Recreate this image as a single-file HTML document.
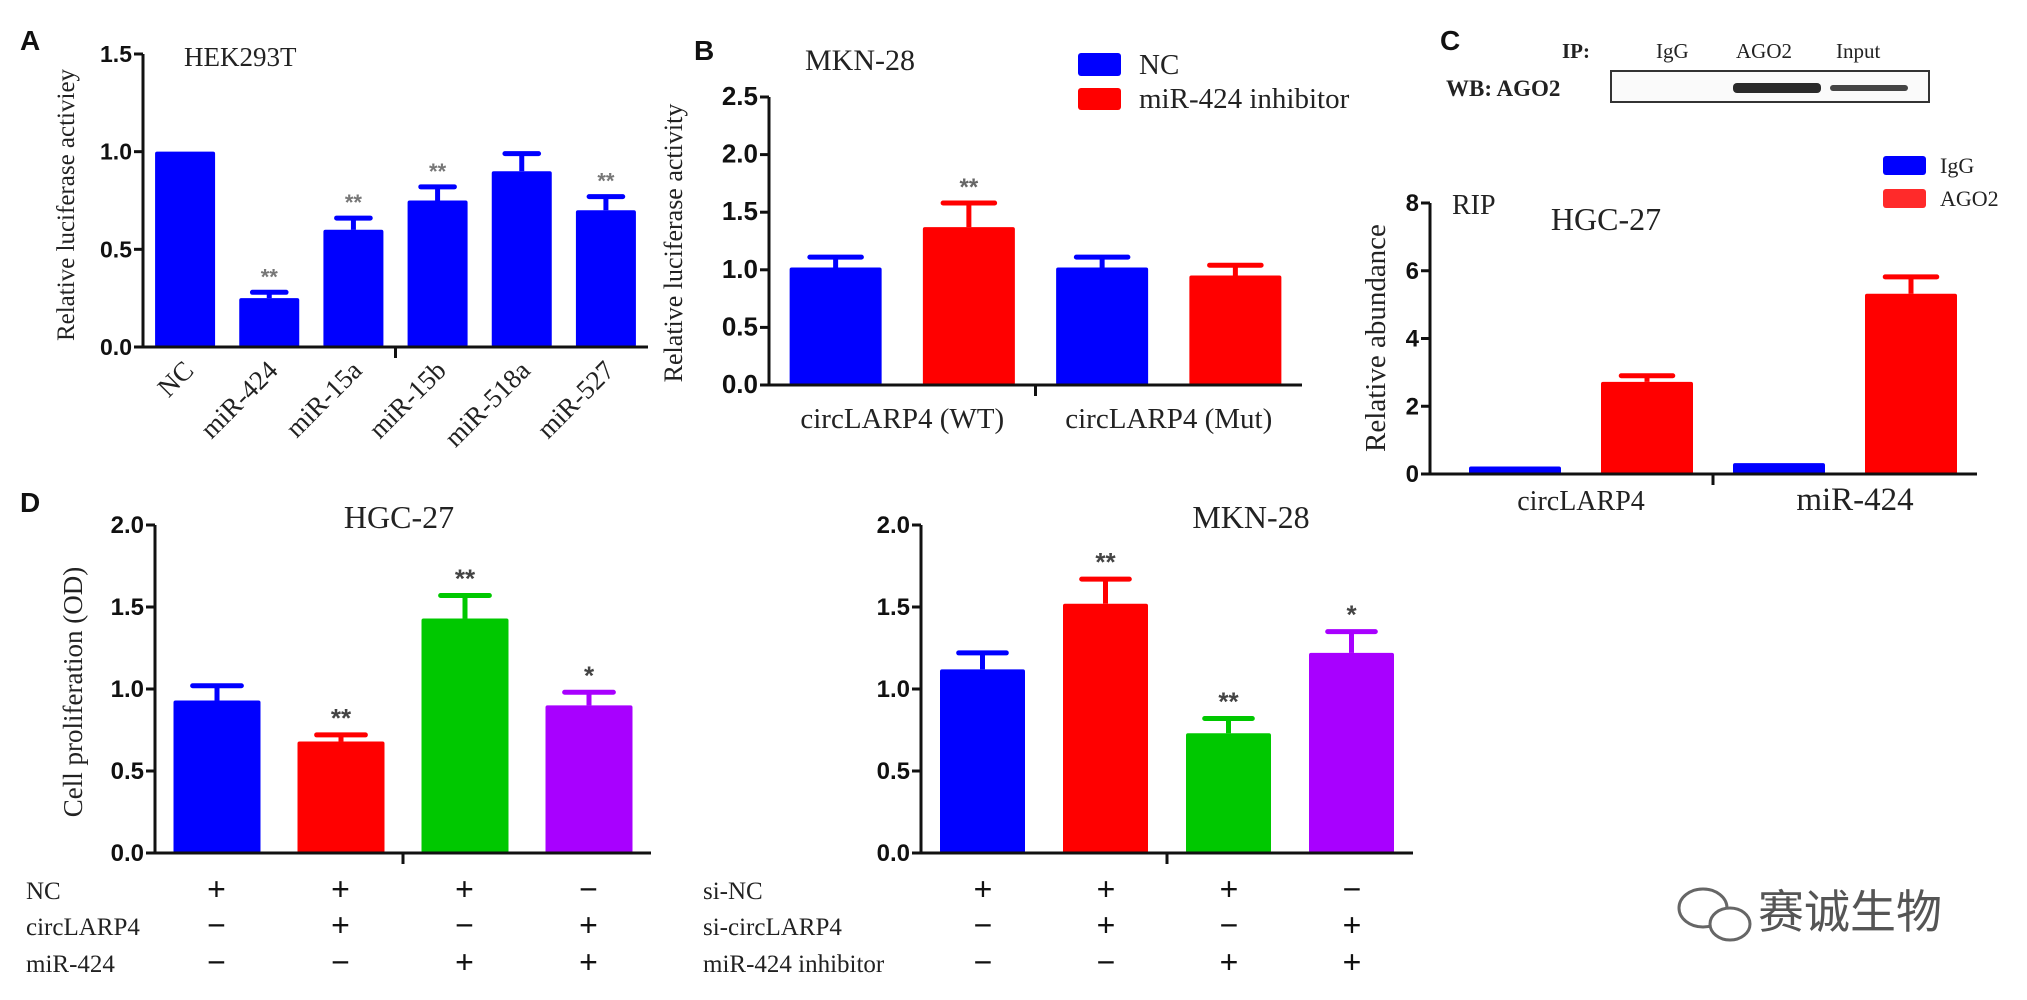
<!DOCTYPE html>
<html><head><meta charset="utf-8">
<style>
html,body{margin:0;padding:0;background:#fff;}
svg{display:block;}
.tm{font-family:"Liberation Serif",serif;fill:#222;}
.ar{font-family:"Liberation Sans",sans-serif;font-weight:bold;fill:#111;}
</style></head>
<body>
<svg id="fig" width="2027" height="1000" viewBox="0 0 2027 1000" xmlns="http://www.w3.org/2000/svg">
  <rect x="0" y="0" width="2027" height="1000" fill="#fff"/>
  <text x="20" y="50" class="ar" font-size="28">A</text>
  <text x="694" y="60" class="ar" font-size="28">B</text>
  <text x="1440" y="50" class="ar" font-size="28">C</text>
  <text x="20" y="512" class="ar" font-size="28">D</text>

  <text x="184" y="66" class="tm" font-size="27">HEK293T</text>
  <text transform="translate(74,205) rotate(-90)" text-anchor="middle" class="tm" font-size="25">Relative luciferase activiey</text>

  <text x="805" y="70" class="tm" font-size="30">MKN-28</text>
  <rect x="1078" y="53" width="43" height="23" rx="3" fill="#0000ff"/>
  <text x="1139" y="74" class="tm" font-size="29">NC</text>
  <rect x="1078" y="88" width="43" height="22" rx="3" fill="#ff0000"/>
  <text x="1139" y="108" class="tm" font-size="29">miR-424 inhibitor</text>
  <text transform="translate(682,243) rotate(-90)" text-anchor="middle" class="tm" font-size="26">Relative  luciferase activity</text>

  <text x="1562" y="58" class="tm" font-size="21" font-weight="bold">IP:</text>
  <text x="1656" y="58" class="tm" font-size="21">IgG</text>
  <text x="1736" y="58" class="tm" font-size="21">AGO2</text>
  <text x="1836" y="58" class="tm" font-size="21">Input</text>
  <text x="1446" y="96" class="tm" font-size="23" font-weight="bold">WB: AGO2</text>
  <rect x="1611" y="71" width="318" height="31" fill="#fafafa" stroke="#333" stroke-width="2"/>
  <rect x="1733" y="83" width="88" height="10" rx="4" fill="#2a2a2a"/>
  <rect x="1830" y="85" width="78" height="6" rx="3" fill="#444"/>

  <text x="1452" y="214" class="tm" font-size="28">RIP</text>
  <text x="1606" y="230" text-anchor="middle" class="tm" font-size="32">HGC-27</text>
  <rect x="1883" y="156" width="43" height="19" rx="3" fill="#0000ff"/>
  <text x="1940" y="173" class="tm" font-size="22">IgG</text>
  <rect x="1883" y="189" width="43" height="19" rx="3" fill="#ff2a2a"/>
  <text x="1940" y="206" class="tm" font-size="22">AGO2</text>
  <text transform="translate(1385,338) rotate(-90)" text-anchor="middle" class="tm" font-size="29">Relative abundance</text>

  <text x="399" y="528" text-anchor="middle" class="tm" font-size="32">HGC-27</text>
  <text transform="translate(82,692) rotate(-90)" text-anchor="middle" class="tm" font-size="27">Cell proliferation (OD)</text>
  <text x="1251" y="528" text-anchor="middle" class="tm" font-size="32">MKN-28</text>

  <g>
    <ellipse cx="1703" cy="908" rx="24" ry="19" fill="none" stroke="#666" stroke-width="3"/>
    <ellipse cx="1730" cy="924" rx="20" ry="16" fill="#fff" stroke="#666" stroke-width="3"/>
    <text x="1758" y="928" class="tm" font-size="46" style="font-family:'Liberation Sans','Noto Sans CJK SC',sans-serif;fill:#555">赛诚生物</text>
  </g>
  <g id="charts"></g>
</svg>

<script>
const aCategories = ["NC","miR-424","miR-15a","miR-15b","miR-518a","miR-527"];
const aValues = [1.0, 0.25, 0.60, 0.75, 0.90, 0.70];
const aErrors = [0.0, 0.03, 0.06, 0.07, 0.09, 0.07];
const aStars = ["", "**", "**", "**", "", "**"];
const aTicks = [0.0, 0.5, 1.0, 1.5];
const aTickLabels = ["0.0","0.5","1.0","1.5"];

const bGroups = ["circLARP4 (WT)","circLARP4 (Mut)"];
const bSeries = ["NC","miR-424 inhibitor"];
const bValues = [1.02, 1.37, 1.02, 0.95];
const bErrors = [0.09, 0.21, 0.09, 0.09];
const bStars = ["", "**", "", ""];
const bTicks = [0.0, 0.5, 1.0, 1.5, 2.0, 2.5];
const bTickLabels = ["0.0","0.5","1.0","1.5","2.0","2.5"];

const cGroups = ["circLARP4","miR-424"];
const cSeries = ["IgG","AGO2"];
const cValues = [0.22, 2.72, 0.32, 5.32];
const cErrors = [0.0, 0.18, 0.0, 0.50];
const cTicks = [0, 2, 4, 6, 8];
const cTickLabels = ["0","2","4","6","8"];

const d1Values = [0.93, 0.68, 1.43, 0.90];
const d1Errors = [0.09, 0.04, 0.14, 0.08];
const d1Stars = ["", "**", "**", "*"];
const d1RowLabels = ["NC","circLARP4","miR-424"];
const d1Signs = [["+","+","+","−"],["−","+","−","+"],["−","−","+","+"]];

const d2Values = [1.12, 1.52, 0.73, 1.22];
const d2Errors = [0.10, 0.15, 0.09, 0.13];
const d2Stars = ["", "**", "**", "*"];
const d2RowLabels = ["si-NC","si-circLARP4","miR-424 inhibitor"];
const d2Signs = [["+","+","+","−"],["−","+","−","+"],["−","−","+","+"]];

const dTicks = [0.0, 0.5, 1.0, 1.5, 2.0];
const dTickLabels = ["0.0","0.5","1.0","1.5","2.0"];

const NS = "http://www.w3.org/2000/svg";
const root = document.getElementById("charts");
function mk(tag, attrs, parent){
  const e = document.createElementNS(NS, tag);
  for (const k in attrs) e.setAttribute(k, attrs[k]);
  (parent||root).appendChild(e);
  return e;
}

function chart(p){
  const g = mk("g", {});
  
  
  const n = p.values.length;
  const axisX = (p.axisX !== undefined) ? p.axisX : p.x0;
  const step = (p.x1 - p.x0) / n;
  const yScale = v => p.y0 - (v / p.vmax) * (p.y0 - p.yTop);
  const xLeft = i => p.x0 + i*step + (step - p.bw)/2;
  p.values.forEach((v,i)=>{
    const col = p.colors[i % p.colors.length];
    const bx = xLeft(i), by = yScale(v);
    const r = mk("rect", {x:bx, y:by, width:p.bw, height:p.y0-by, fill:col, rx:2}, g);
    
    
    const e = p.errors[i];
    if (e > 0){
      const cx = bx + p.bw/2, ey = yScale(v+e);
      const l1 = mk("line", {x1:cx, y1:by, x2:cx, y2:ey, stroke:col, "stroke-width":5}, g);
      
      
      const l2 = mk("line", {x1:cx-p.bw*0.28, y1:ey, x2:cx+p.bw*0.28, y2:ey, stroke:col, "stroke-width":5, "stroke-linecap":"round"}, g);
      
      
    }
    if (p.stars && p.stars[i]){
      const t = mk("text", {x:bx+p.bw/2, y:yScale(v+e)-8, "text-anchor":"middle", "font-size":p.starSize||26, fill:p.starColor||"#555", "font-family":"Liberation Sans, sans-serif", "font-weight":"bold"}, g);
      t.textContent = p.stars[i];
      
      
    }
  });
  const ya = mk("line", {x1:axisX, y1:p.y0+1.5, x2:axisX, y2:p.yTop, stroke:"#111", "stroke-width":3}, g);
  
  
  const xa = mk("line", {x1:axisX-9, y1:p.y0, x2:p.x1, y2:p.y0, stroke:"#111", "stroke-width":3}, g);
  
  
  const mt = mk("line", {x1:(p.x0+p.x1)/2, y1:p.y0, x2:(p.x0+p.x1)/2, y2:p.y0+11, stroke:"#111", "stroke-width":3}, g);
  
  
  p.ticks.forEach((tv,i)=>{
    const ty = yScale(tv);
    const tk = mk("line", {x1:axisX-9, y1:ty, x2:axisX, y2:ty, stroke:"#111", "stroke-width":3}, g);
    
    
    const tl = mk("text", {x:axisX-11, y:ty+8, "text-anchor":"end", "font-size":p.tickSize||24, class:"ar"}, g);
    tl.textContent = p.tickLabels[i];
    
    
  });
  return {g, step, xLeft, yScale};
}

const A = chart({name:"a-chart", x0:143, x1:648, y0:347, yTop:54, vmax:1.5, bw:60,
  values:aValues, errors:aErrors, stars:aStars, colors:["#0000ff"], ticks:aTicks, tickLabels:aTickLabels, starColor:"#777", starSize:22, tickSize:23});
aCategories.forEach((c,i)=>{
  const cx = A.xLeft(i) + 30 + 10;
  const t = mk("text", {transform:`translate(${cx},372) rotate(-45)`, "text-anchor":"end", class:"tm", "font-size":27}, A.g);
  t.textContent = c;
  
  
});

const B = chart({name:"b-chart", x0:769, x1:1302, y0:385, yTop:97, vmax:2.5, bw:92,
  values:bValues, errors:bErrors, stars:bStars, colors:["#0000ff","#ff0000"], ticks:bTicks, tickLabels:bTickLabels, starColor:"#666", starSize:24, tickSize:26});
bGroups.forEach((gname,i)=>{
  const cx = B.xLeft(i*2) + (B.step + 92)/2;
  const t = mk("text", {x:cx, y:428, "text-anchor":"middle", class:"tm", "font-size":29}, B.g);
  t.textContent = gname;
  
  
});

const C = chart({name:"c-chart", x0:1449, x1:1977, axisX:1430, y0:474, yTop:203, vmax:8, bw:92,
  values:cValues, errors:cErrors, stars:null, colors:["#0000ff","#ff0000"], ticks:cTicks, tickLabels:cTickLabels, tickSize:24});
cGroups.forEach((gname,i)=>{
  const cx = C.xLeft(i*2) + (C.step + 92)/2;
  const t = mk("text", {x:cx + (i?10:0), y:510, "text-anchor":"middle", class:"tm", "font-size":i?33:28}, C.g);
  t.textContent = gname;
  
  
});

const dColors = ["#0000ff","#ff0000","#00c800","#a800ff"];
function signRows(ch, labels, signs, labelX, name){
  const rowsY = [899, 935, 972];
  labels.forEach((lab,r)=>{
    const t = mk("text", {x:labelX, y:rowsY[r], class:"tm", "font-size":25}, ch.g);
    t.textContent = lab;
    
    
    signs[r].forEach((s,i)=>{
      const cx = ch.xLeft(i) + 43;
      const st = mk("text", {x:cx, y:rowsY[r]+1, "text-anchor":"middle", "font-size":32, "font-family":"Liberation Sans, sans-serif", fill:"#111"}, ch.g);
      st.textContent = s;
      
      
    });
  });
}
const D1 = chart({name:"d1-chart", x0:155, x1:651, y0:853, yTop:525, vmax:2, bw:87,
  values:d1Values, errors:d1Errors, stars:d1Stars, colors:dColors, ticks:dTicks, tickLabels:dTickLabels, starColor:"#444", starSize:26, tickSize:24});
signRows(D1, d1RowLabels, d1Signs, 26, "d1");
const D2 = chart({name:"d2-chart", x0:921, x1:1413, y0:853, yTop:525, vmax:2, bw:85,
  values:d2Values, errors:d2Errors, stars:d2Stars, colors:dColors, ticks:dTicks, tickLabels:dTickLabels, starColor:"#444", starSize:26, tickSize:24});
signRows(D2, d2RowLabels, d2Signs, 703, "d2");
</script>
</body></html>
